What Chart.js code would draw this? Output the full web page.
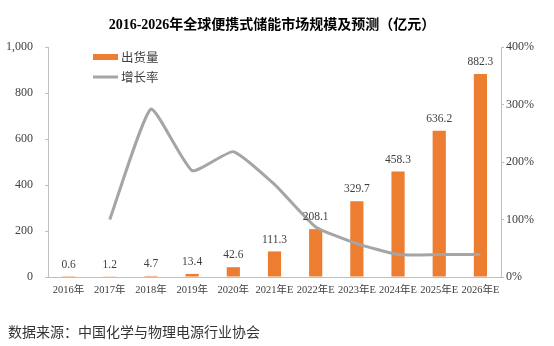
<!DOCTYPE html>
<html>
<head>
<meta charset="utf-8">
<script src="https://cdn.jsdelivr.net/npm/chart.js@4"></script>
<style>
  html, body { margin: 0; padding: 0; background: #fff; }
  #wrap { width: 554px; height: 346px; position: relative; }
</style>
</head>
<body>
<div id="wrap"><canvas id="graphique"></canvas></div>
<script>
// données
const annees = ['2016年', '2017年', '2018年', '2019年', '2020年', '2021年E', '2022年E', '2023年E', '2024年E', '2025年E', '2026年E'];
const expeditions = [0.6, 1.2, 4.7, 13.4, 42.6, 111.3, 208.1, 329.7, 458.3, 636.2, 882.3];
const croissance = [null, 100, 292, 185, 218, 161, 87, 58, 39, 39, 39];
const titre = '2016-2026年全球便携式储能市场规模及预测（亿元）';
const source = '数据来源：中国化学与物理电源行业协会';

const serif = "'Liberation Serif', 'Noto Sans CJK SC', serif";
const cjk = "'Noto Sans CJK SC', sans-serif";
const gris = '#404040';

// titre, légende, étiquettes des axes et des barres, source
const decor = {
    id: 'decor',
    afterDatasetsDraw(chart) {
        const c = chart.ctx;
        c.save();
        // valeurs au-dessus des barres
        const meta = chart.getDatasetMeta(0);
        c.font = '11.5px ' + serif;
        c.fillStyle = gris;
        c.textAlign = 'center';
        c.textBaseline = 'bottom';
        meta.data.forEach((bar, i) => {
            c.fillText(expeditions[i].toFixed(1), bar.x, bar.y - 6);
        });
        c.restore();
    },
    afterDraw(chart) {
        const c = chart.ctx;
        const { x, y, y2 } = chart.scales;
        c.save();
        c.fillStyle = gris;
        // graduations (police serif dessinée à la main)
        c.font = '12px ' + serif;
        c.textBaseline = 'middle';
        c.textAlign = 'right';
        y.ticks.forEach(t => c.fillText(t.label, y.right - 15, y.getPixelForValue(t.value)));
        c.textAlign = 'left';
        y2.ticks.forEach(t => c.fillText(t.label, y2.left + 5, y2.getPixelForValue(t.value)));
        c.font = '10.5px ' + serif;
        c.textAlign = 'center';
        x.ticks.forEach((t, i) => c.fillText(t.label, x.getPixelForTick(i), x.top + 13));
        // titre
        c.font = 'bold 14px ' + serif;
        c.fillStyle = '#000';
        c.fillText(titre, 272, 25);
        // légende
        const ds = chart.data.datasets;
        c.font = '12.5px ' + cjk;
        c.textAlign = 'left';
        c.fillStyle = '#ED7D31';
        c.fillRect(93, 54, 25, 6);
        c.fillStyle = gris;
        c.fillText(ds[0].label, 121, 57);
        c.strokeStyle = '#A5A5A5';
        c.lineWidth = 3;
        c.beginPath();
        c.moveTo(93, 77);
        c.lineTo(118, 77);
        c.stroke();
        c.fillText(ds[1].label, 121, 77);
        // source
        c.font = '14px ' + cjk;
        c.fillStyle = '#333';
        c.fillText(source, 8, 332);
        c.restore();
    }
};

const ctx = document.getElementById('graphique').getContext('2d');
new Chart(ctx, {
    type: 'bar',
    data: {
        labels: annees,
        datasets: [{
            label: '出货量',
            data: expeditions,
            backgroundColor: '#ED7D31',
            barPercentage: 0.32,
            categoryPercentage: 1,
            yAxisID: 'y',
            order: 1
        }, {
            type: 'line',
            label: '增长率',
            data: croissance,
            borderColor: '#A5A5A5',
            borderWidth: 3,
            pointRadius: 0,
            tension: 0.15,
            fill: false,
            yAxisID: 'y2',
            order: 0
        }]
    },
    options: {
        responsive: true,
        maintainAspectRatio: false,
        animation: false,
        layout: { padding: { top: 47, left: 0, right: 0, bottom: 0 } },
        plugins: {
            legend: { display: false },
            title: { display: false },
            tooltip: { enabled: false }
        },
        scales: {
            x: {
                grid: { display: false, drawTicks: false },
                border: { color: '#BFBFBF', width: 1 },
                ticks: { color: 'rgba(0,0,0,0)', font: { size: 10 }, padding: 7, maxRotation: 0, autoSkip: false },
                afterFit(s) { s.height = 69; }
            },
            y: {
                position: 'left',
                min: 0,
                max: 1000,
                ticks: {
                    stepSize: 200,
                    color: 'rgba(0,0,0,0)',
                    font: { size: 12 },
                    padding: 12,
                    callback: v => v.toLocaleString('en-US')
                },
                grid: { drawOnChartArea: false, tickLength: 3, color: '#BFBFBF' },
                border: { color: '#BFBFBF', width: 1 },
                afterFit(s) { s.width = 48; }
            },
            y2: {
                position: 'right',
                min: 0,
                max: 400,
                ticks: {
                    stepSize: 100,
                    color: 'rgba(0,0,0,0)',
                    font: { size: 12 },
                    padding: 2,
                    callback: v => v + '%'
                },
                grid: { drawOnChartArea: false, tickLength: 3, color: '#BFBFBF' },
                border: { color: '#BFBFBF', width: 1 },
                afterFit(s) { s.width = 53; }
            }
        }
    },
    plugins: [decor]
});
</script>
</body>
</html>
